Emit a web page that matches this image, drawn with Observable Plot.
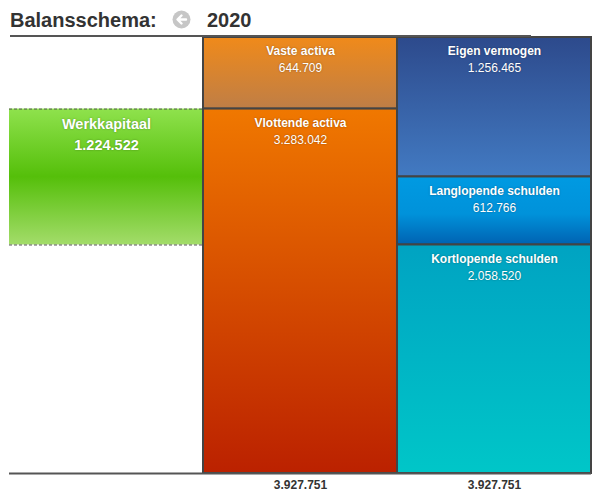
<!DOCTYPE html>
<html>
<head>
<meta charset="utf-8">
<script src="https://cdn.jsdelivr.net/npm/d3@7"></script>
<script src="https://cdn.jsdelivr.net/npm/@observablehq/plot@0.6"></script>
<style>
  body { margin: 0; background: #fff; font-family: "Liberation Sans", Arial, sans-serif; }
  #title { position: relative; width: 605px; height: 37px; }
  #title .t { position: absolute; top: 9px; line-height: 22px; font-weight: bold; font-size: 20px; color: #333; white-space: nowrap; }
  #title .line { position: absolute; left: 10px; top: 35px; width: 521px; height: 2px; background: #555; }
  #title svg.icon { position: absolute; left: 172px; top: 10px; }
  #chart svg g[fill="white"] text { text-shadow: 0 0 2px rgba(0,0,0,0.35); }
</style>
</head>
<body>
<div id="title">
  <span class="t" style="left:10px">Balansschema:</span>
  <svg class="icon" width="19" height="19" viewBox="0 0 19 19">
    <circle cx="9.5" cy="9.5" r="9" fill="#c6c6c6"/>
    <path d="M14 9.5 H6 M9.5 5.5 L5.5 9.5 L9.5 13.5" stroke="#fff" stroke-width="2.4" fill="none" stroke-linecap="round" stroke-linejoin="round"/>
  </svg>
  <span class="t" style="left:207px">2020</span>
  <div class="line"></div>
</div>
<div id="chart"></div>
<script>
// ---- data ----
const activaNames = ["Vaste activa", "Vlottende activa"];
const activaValues = [644709, 3283042];
const passivaNames = ["Eigen vermogen", "Langlopende schulden", "Kortlopende schulden"];
const passivaValues = [1256465, 612766, 2058520];
const werkkapitaalName = "Werkkapitaal";
const werkkapitaalValue = 1224522;
const totalLabels = [3927751, 3927751];

// ---- styling ----
const gradients = {
  "g-wk": [[0, "#8fe24d"], [0.5, "#55bf0a"], [1, "#a3dc6a"]],
  "g-a0": [[0, "#f08a1a"], [1, "#bf7e46"]],
  "g-a1": [[0, "#f07800"], [1, "#bb2100"]],
  "g-p0": [[0, "#2d4a8c"], [1, "#427ac2"]],
  "g-p1": [[0, "#009ae2"], [0.55, "#0092da"], [1, "#0062b2"]],
  "g-p2": [[0, "#00a3c2"], [1, "#00c6c8"]]
};

const nl = d3.formatLocale({decimal: ",", thousands: ".", grouping: [3], currency: ["", ""]});
const fmt = nl.format(",d");

const total = d3.sum(activaValues);

function stackColumn(names, values, col, prefix) {
  let top = total;
  return names.map((name, i) => {
    const y2 = top, y1 = top - values[i];
    top = y1;
    return {name, value: values[i], x1: col, x2: col + 1, y1, y2, grad: `url(#${prefix}${i})`};
  });
}
const boxes = [
  ...stackColumn(activaNames, activaValues, 1, "g-a"),
  ...stackColumn(passivaNames, passivaValues, 2, "g-p")
];
const vlottende = boxes[1];
const wk = [{name: werkkapitaalName, value: werkkapitaalValue, x1: 0, x2: 1,
  y2: vlottende.y2, y1: vlottende.y2 - werkkapitaalValue}];
const totals = totalLabels.map((v, i) => ({value: v, x: i + 1.5}));

const chart = Plot.plot({
  width: 605,
  height: 459,
  marginTop: 0,
  marginBottom: 23,
  marginLeft: 9,
  marginRight: 14,
  x: {domain: [0, 3], axis: null},
  y: {domain: [0, total], axis: null},
  color: {type: "identity"},
  style: {fontFamily: "'Liberation Sans', Arial, sans-serif", background: "transparent", overflow: "visible"},
  marks: [
    Plot.rect(wk, {x1: "x1", x2: "x2", y1: "y1", y2: "y2", fill: "url(#g-wk)"}),
    Plot.ruleY(wk, {y: "y1", x1: "x1", x2: "x2", stroke: "#555", strokeDasharray: "3,2", strokeWidth: 1}),
    Plot.ruleY(wk, {y: "y2", x1: "x1", x2: "x2", stroke: "#555", strokeDasharray: "3,2", strokeWidth: 1}),
    Plot.rect(boxes, {x1: "x1", x2: "x2", y1: "y1", y2: "y2", fill: "grad", stroke: "#444", strokeWidth: 2}),
    Plot.ruleY([0], {stroke: "#555", strokeWidth: 2}),
    Plot.text(boxes, {x: d => (d.x1 + d.x2) / 2, y: "y2", text: "name", lineAnchor: "top", dy: 9,
      fill: "white", fontWeight: "bold", fontSize: 12}),
    Plot.text(boxes, {x: d => (d.x1 + d.x2) / 2, y: "y2", text: d => fmt(d.value), lineAnchor: "top", dy: 26,
      fill: "white", fontSize: 12}),
    Plot.text(wk, {x: d => (d.x1 + d.x2) / 2, y: "y2", text: "name", lineAnchor: "top", dy: 10,
      fill: "white", fontWeight: "bold", fontSize: 14.5}),
    Plot.text(wk, {x: d => (d.x1 + d.x2) / 2, y: "y2", text: d => fmt(d.value), lineAnchor: "top", dy: 31,
      fill: "white", fontWeight: "bold", fontSize: 14.5}),
    Plot.text(totals, {x: "x", y: 0, text: d => fmt(d.value), lineAnchor: "top", dy: 7,
      fill: "#333", fontWeight: "bold", fontSize: 12})
  ]
});

// gradient definitions
const defs = d3.select(chart).insert("defs", ":first-child");
for (const [id, stops] of Object.entries(gradients)) {
  const g = defs.append("linearGradient").attr("id", id)
    .attr("x1", 0).attr("y1", 0).attr("x2", 0).attr("y2", 1);
  for (const [o, c] of stops) g.append("stop").attr("offset", o).attr("stop-color", c);
}
document.getElementById("chart").appendChild(chart);
</script>
</body>
</html>
